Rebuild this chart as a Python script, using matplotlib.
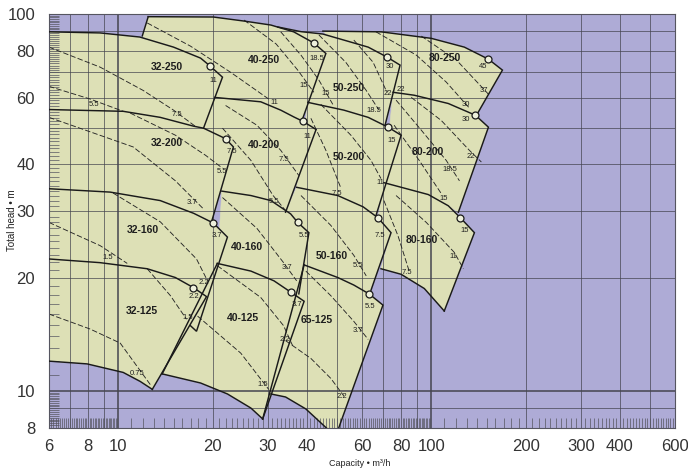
import matplotlib
matplotlib.use("Agg")
import matplotlib.pyplot as plt
from matplotlib.patches import Polygon
from matplotlib.ticker import NullFormatter

# ---------------- data (capacity m3/h, head m) ----------------
# head curves of each pump (max impeller), last point = rated point (circle)
c32_250_q = [6, 8.74, 11.7, 15.0, 18.3, 19.55]
c32_250_h = [89.7, 89.1, 86.9, 81.7, 76.4, 73.0]
c32_200_q = [6, 10.36, 13.6, 17.4, 18.7, 22.0]
c32_200_h = [55.8, 55.2, 53.2, 50.4, 49.8, 46.7]
c32_160_q = [6, 9.41, 13.6, 17.4, 20.1]
c32_160_h = [34.4, 33.7, 32.0, 29.6, 27.9]
c32_125_q = [6, 8.74, 12.36, 15.2, 17.37]
c32_125_h = [22.4, 21.9, 21.1, 20.0, 18.8]
c40_250_q = [12.45, 20.1, 25.2, 30.7, 36.3, 42.1]
c40_250_h = [98.4, 98.2, 95.8, 93.5, 89.7, 83.8]
c40_200_q = [20.3, 28.5, 33.0, 36.4, 38.9]
c40_200_h = [60.1, 58.5, 55.6, 53.3, 51.9]
c40_160_q = [21.4, 26.5, 30.7, 35.5, 37.4]
c40_160_h = [33.9, 33.0, 32.0, 29.5, 28.0]
c40_125_q = [20.7, 26.5, 31.4, 35.5]
c40_125_h = [21.8, 20.8, 19.6, 18.3]
c50_250_q = [32.3, 38.3, 45.0, 52.5, 62.8, 72.1]
c50_250_h = [92.4, 89.8, 88.5, 85.3, 81.7, 76.9]
c50_200_q = [40.3, 52.5, 62.8, 72.7]
c50_200_h = [58.3, 55.6, 53.2, 50.1]
c50_160_q = [37.1, 50.2, 60.5, 67.5]
c50_160_h = [34.7, 33.0, 30.8, 28.8]
c65_125_q = [39.2, 50.2, 56.5, 63.2]
c65_125_h = [21.6, 20.0, 19.1, 18.1]
c80_250_q = [45.0, 69.0, 99.9, 127.4, 152.1]
c80_250_h = [90.1, 89.7, 86.2, 81.7, 75.9]
c80_200_q = [75.4, 88.1, 113.2, 138.2]
c80_200_h = [62.0, 60.9, 57.9, 53.9]
c80_160_q = [70.5, 97.7, 113.2, 123.8]
c80_160_h = [35.7, 33.2, 31.0, 28.8]

# right-hand limits of each tile
e32_250_q = [19.55, 21.5, 18.7];          e32_250_h = [73.0, 68.0, 49.8]
e32_200_q = [22.0, 23.3, 19.84];          e32_200_h = [46.7, 44.4, 28.1]
e32_160_q = [20.1, 22.3, 17.76, 16.99];   e32_160_h = [27.9, 25.6, 14.4, 14.9]
e32_125_q = [17.37, 19.12, 12.83];        e32_125_h = [18.8, 17.8, 10.1]
e40_250_q = [42.1, 46.0, 38.6];           e40_250_h = [83.8, 78.6, 52.2]
e40_200_q = [38.9, 42.8, 34.2];           e40_200_h = [51.9, 49.4, 29.8]
e40_160_q = [37.4, 40.6, 37.7];           e40_160_h = [28.0, 26.3, 18.1]
e40_125_q = [35.5, 39.2, 28.9];           e40_125_h = [18.3, 17.3, 8.43]
e50_250_q = [72.1, 79.4, 71.1];           e50_250_h = [76.9, 73.2, 50.7]
e50_200_q = [72.7, 80.0, 66.5];           e50_200_h = [50.1, 47.7, 29.2]
e50_160_q = [67.5, 74.3, 64.1];           e50_160_h = [28.8, 26.3, 18.5]
e65_125_q = [63.2, 70.0, 49.5];           e65_125_h = [18.1, 16.9, 7.6]
e80_250_q = [152.1, 168.6, 139.3];        e80_250_h = [75.9, 71.0, 53.9]
e80_200_q = [138.2, 152.1, 121.9];        e80_200_h = [53.9, 50.1, 29.8]
e80_160_q = [123.8, 137.2, 109.9];        e80_160_h = [28.8, 26.3, 16.3]

# lower limits (min impeller) of the bottom tiles
b32_125_q = [6, 7.94, 10.36, 11.74, 12.83];   b32_125_h = [12.0, 11.8, 11.2, 10.6, 10.1]
b40_125_q = [13.8, 18.3, 22.3, 26.5, 28.9];   b40_125_h = [11.1, 10.5, 9.82, 9.01, 8.43]
b65_125_q = [30.7, 34.2, 39.7, 46.7, 47.7];   b65_125_h = [9.82, 9.64, 8.96, 7.91, 7.66]
b80_160_q = [69.0, 80.0, 94.9, 109.9];        b80_160_h = [21.1, 20.4, 18.7, 16.3]

# visible left edges
l40_250_q = [11.92, 12.45]; l40_250_h = [87.5, 98.4]
l40_125_q = [13.8, 20.7];   l40_125_h = [11.1, 21.8]
l65_125_q = [28.9, 39.2];   l65_125_h = [8.43, 21.6]

# motor power lines (dashed)
p_q = [
    [6, 8.74, 12.0, 15.0, 17.76], [6, 8.12, 10.36], [12.36, 16.99, 22.8, 30.2],
    [25.2, 31.9, 37.4, 42.1], [33.0, 38.3, 43.7, 48.4], [43.7, 53.3, 61.9, 68.0],
    [56.5, 65.1, 72.1], [66.5, 89.5, 111.5, 132.2], [92.8, 120.2, 153.2],
    [10.91, 15.21, 18.98, 21.5], [6, 11.15, 15.21, 18.7], [9.62, 13.61, 17.76, 19.26],
    [6, 8.74, 10.67], [12.36, 14.66, 16.5], [6, 8.12, 10.13, 12.64],
    [22.0, 27.7, 33.0, 37.7], [21.5, 26.5, 31.2, 34.2], [21.5, 27.7, 33.7, 37.1],
    [20.7, 28.5, 33.7, 36.0], [17.9, 24.6, 30.2], [39.7, 47.7, 56.5, 62.8],
    [34.2, 41.2, 47.7, 52.5], [44.3, 55.3, 64.1, 69.0], [41.2, 46.0, 51.4],
    [38.3, 47.7, 56.5, 61.9], [86.2, 107.5, 132.2, 144.4], [77.1, 92.8, 111.5, 122.9],
    [76.0, 91.4, 107.5], [77.1, 96.3, 118.4, 126.5], [70.5, 78.2, 84.9],
]
p_h = [
    [81.7, 72.3, 62.7, 55.6, 50.1], [64.3, 59.5, 55.2], [94.7, 82.2, 70.1, 59.5],
    [96.4, 83.3, 71.0, 62.0], [89.7, 77.8, 66.8, 57.6], [88.0, 74.4, 62.7, 55.6],
    [85.3, 74.5, 62.0], [89.7, 77.8, 66.0, 56.3], [87.4, 75.5, 60.9],
    [54.6, 47.7, 42.2, 39.0], [53.2, 44.4, 36.1, 30.4], [33.5, 28.1, 22.4, 19.6],
    [28.0, 24.3, 21.8], [21.1, 17.9, 15.5], [16.0, 14.6, 13.4, 10.4],
    [57.2, 50.7, 43.5, 37.3], [49.8, 40.9, 33.0, 30.1], [32.6, 27.0, 21.9, 19.6],
    [21.5, 17.7, 14.9, 13.2], [15.8, 12.6, 10.1], [20.8, 17.9, 15.3, 13.7],
    [13.6, 12.2, 10.8, 9.7], [57.6, 47.7, 40.9, 36.6], [52.9, 43.5, 34.5],
    [33.0, 27.5, 22.9, 20.2], [60.1, 52.2, 43.5, 40.5], [59.1, 49.2, 40.9, 36.1],
    [50.7, 40.9, 33.4], [33.0, 28.0, 23.3, 21.1], [32.0, 25.8, 20.8],
]

# pump model labels
model_names = ["32-250", "32-200", "32-160", "32-125", "40-250", "40-200", "40-160",
               "40-125", "50-250", "50-200", "50-160", "65-125", "80-250", "80-200", "80-160"]
model_q = [14.3, 14.3, 12.0, 11.9, 29.2, 29.2, 25.8, 24.9, 54.3, 54.3, 48.1, 43.1, 110.2, 97.5, 93.0]
model_h = [72.5, 45.4, 26.7, 16.3, 75.5, 44.9, 24.1, 15.6, 63.8, 41.7, 22.8, 15.4, 76.3, 43.1, 25.2]

# motor kW labels
kw_text = ["11", "5.5", "7.5", "7.5", "5.5", "3.7", "3.7", "1.5", "2.2", "2.2", "1.5", "0.75",
           "18.5", "15", "15", "11", "11", "7.5", "5.5", "5.5", "3.7", "3.7", "2.2", "1.5", "2.2",
           "3.7", "5.5", "5.5", "7.5", "7.5", "11", "15", "18.5", "30", "22", "22", "45", "37",
           "30", "30", "22", "18.5", "15", "15", "11", "7.5"]
kw_q = [20.1, 8.38, 15.4, 23.1, 21.5, 17.2, 20.6, 9.22, 18.8, 17.4, 16.6, 11.5,
        43.1, 39.2, 46.0, 31.5, 40.2, 33.9, 31.5, 39.2, 34.6, 37.1, 34.0, 28.9, 51.8,
        58.2, 63.7, 58.1, 68.6, 50.0, 68.5, 74.9, 65.3, 73.4, 72.4, 80.0, 146.6, 146.6,
        128.8, 128.8, 133.7, 114.9, 109.1, 127.4, 117.5, 83.6]
kw_h = [66.8, 57.4, 54.3, 43.1, 38.2, 31.7, 25.8, 22.6, 19.4, 17.8, 15.7, 11.1,
        76.3, 64.8, 61.4, 58.1, 47.3, 41.2, 31.8, 25.9, 21.2, 17.0, 13.7, 10.4, 9.66,
        14.5, 16.8, 21.5, 25.9, 33.5, 35.7, 46.3, 55.5, 72.8, 61.7, 63.2, 72.4, 62.5,
        57.7, 52.6, 42.0, 38.6, 32.4, 26.6, 22.7, 20.6]

# axes ticks / grid
x_ticks = [6, 8, 10, 20, 30, 40, 60, 80, 100, 200, 300, 400, 600]
y_ticks = [8, 10, 20, 30, 40, 60, 80, 100]
grid_q = [7, 8, 9, 10, 20, 30, 40, 50, 60, 70, 80, 90, 100, 200, 300, 400, 500]
grid_h = [9, 10, 20, 30, 40, 50, 60, 70, 80, 90]

# ---------------- drawing ----------------
BG = "#aeabd6"
TILE = "#dde0b6"
FONT = ["Liberation Sans", "DejaVu Sans"]

fig = plt.figure(figsize=(6.88, 4.68), dpi=100)
fig.patch.set_facecolor("white")
ax = fig.add_axes([0.0712, 0.0865, 0.9099, 0.8835])
ax.set_xscale("log")
ax.set_yscale("log")
ax.set_xlim(6, 600)
ax.set_ylim(8, 100)
ax.set_facecolor(BG)

tiles = [
    (c32_250_q, c32_250_h, e32_250_q, e32_250_h, c32_200_q, c32_200_h, [], []),
    (c32_200_q, c32_200_h, e32_200_q, e32_200_h, c32_160_q, c32_160_h, [], []),
    (c32_160_q, c32_160_h, e32_160_q, e32_160_h, c32_125_q, c32_125_h, [], []),
    (c32_125_q, c32_125_h, e32_125_q, e32_125_h, b32_125_q, b32_125_h, [], []),
    (c40_250_q, c40_250_h, e40_250_q, e40_250_h, c40_200_q, c40_200_h,
     l40_250_q[:1], l40_250_h[:1]),
    (c40_200_q, c40_200_h, e40_200_q, e40_200_h, c40_160_q, c40_160_h,
     e32_250_q[-1:], e32_250_h[-1:]),
    (c40_160_q, c40_160_h, e40_160_q, e40_160_h, c40_125_q, c40_125_h, [], []),
    (c40_125_q, c40_125_h, e40_125_q, e40_125_h, b40_125_q, b40_125_h, [], []),
    (c50_250_q, c50_250_h, e50_250_q, e50_250_h, c50_200_q, c50_200_h, [], []),
    (c50_200_q, c50_200_h, e50_200_q, e50_200_h, c50_160_q, c50_160_h, [], []),
    (c50_160_q, c50_160_h, e50_160_q, e50_160_h, c65_125_q, c65_125_h,
     e40_160_q[1::-1] + e40_200_q[-1:], e40_160_h[1::-1] + e40_200_h[-1:]),
    (c65_125_q, c65_125_h, e65_125_q, e65_125_h, b65_125_q, b65_125_h, [], []),
    (c80_250_q, c80_250_h, e80_250_q, e80_250_h, c80_200_q, c80_200_h, [], []),
    (c80_200_q, c80_200_h, e80_200_q, e80_200_h, c80_160_q, c80_160_h, [], []),
    (c80_160_q, c80_160_h, e80_160_q, e80_160_h, b80_160_q, b80_160_h,
     e50_160_q[1::-1], e50_160_h[1::-1]),
]

for tq, th, eq, eh, bq, bh, lq, lh in tiles:
    pts = list(zip(tq, th)) + list(zip(eq[1:], eh[1:]))
    bot = [(q, h) for q, h in zip(bq, bh) if q < eq[-1]]
    pts += bot[::-1] + list(zip(lq, lh))
    ax.add_patch(Polygon(pts, closed=True, facecolor=TILE, edgecolor=TILE,
                         lw=0.4, zorder=1))

# grid on top of the fills
for q in grid_q:
    ax.axvline(q, color="#45454f", lw=1.1 if q in (10, 100) else 0.5, zorder=1.5)
for h in grid_h:
    ax.axhline(h, color="#45454f", lw=1.1 if h == 10 else 0.5, zorder=1.5)

line_kw = dict(color="#1a1a1a", lw=1.05, zorder=3, solid_joinstyle="miter")
for tq, th, eq, eh, bq, bh, lq, lh in tiles:
    ax.plot(tq, th, **line_kw)
    ax.plot(eq, eh, **line_kw)
for bq, bh in [(b32_125_q, b32_125_h), (b40_125_q, b40_125_h),
               (b65_125_q, b65_125_h), (b80_160_q, b80_160_h)]:
    ax.plot(bq, bh, **line_kw)
for lq, lh in [(l40_250_q, l40_250_h), (l40_125_q, l40_125_h), (l65_125_q, l65_125_h)]:
    ax.plot(lq, lh, **line_kw)

for q, h in zip(p_q, p_h):
    ax.plot(q, h, color="#262626", lw=0.65, ls=(0, (6, 2.5)), zorder=2.5)

for tq, th, *_ in tiles:
    ax.plot(tq[-1], th[-1], "o", ms=5, mfc="#eef0dc", mec="#1a1a1a", mew=0.9, zorder=4)

for name, q, h in zip(model_names, model_q, model_h):
    ax.text(q, h, name, ha="center", va="center", fontsize=7.5, fontweight="bold",
            family=FONT, color="#1e1e1e", zorder=5)
for t, q, h in zip(kw_text, kw_q, kw_h):
    ax.text(q, h, t, ha="center", va="center", fontsize=5.5, family=FONT,
            color="#1e1e1e", zorder=5)

# ticks
ax.set_xticks(x_ticks)
ax.set_xticklabels([str(v) for v in x_ticks])
ax.set_yticks(y_ticks)
ax.set_yticklabels([str(v) for v in y_ticks])
minor_x = [6 + 0.1 * i for i in range(1, 40)] + list(range(11, 100)) + list(range(110, 600, 10))
minor_y = [8 + 0.1 * i for i in range(1, 20)] + list(range(11, 100))
ax.set_xticks(minor_x, minor=True)
ax.set_yticks(minor_y, minor=True)
ax.xaxis.set_minor_formatter(NullFormatter())
ax.yaxis.set_minor_formatter(NullFormatter())
ax.tick_params(which="major", length=0, labelsize=12, labelcolor="#333333")
ax.tick_params(axis="x", which="major", pad=8)
ax.tick_params(axis="y", which="major", pad=10)
ax.tick_params(which="minor", direction="in", length=7, width=0.5, color="#555560")
for lab in ax.get_xticklabels() + ax.get_yticklabels():
    lab.set_family(FONT)
    lab.set_fontweight("light")
xl = ax.get_xticklabels()
xl[-1].set_horizontalalignment("center")
for sp in ax.spines.values():
    sp.set_color("#555560")
    sp.set_linewidth(0.8)

fig.text(12 / 688, 1 - 220 / 468, "Total head \u2022 m", rotation=90, ha="center",
         va="center", fontsize=7, family=FONT, color="#222222")
fig.text(360 / 688, 1 - 463 / 468, "Capacity \u2022 m\u00b3/h", ha="center", va="center",
         fontsize=6.5, family=FONT, color="#222222")

fig.savefig("out.png", dpi=100, facecolor="white")
